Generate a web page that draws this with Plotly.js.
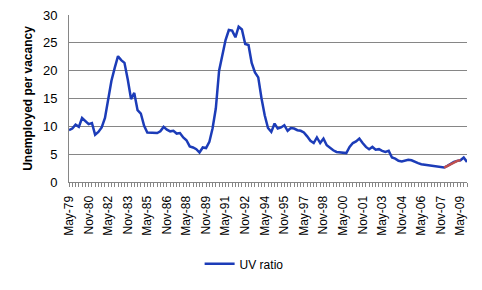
<!DOCTYPE html>
<html>
<head>
<meta charset="utf-8">
<script src="https://cdn.plot.ly/plotly-3.0.1.min.js"></script>
<style>html,body{margin:0;padding:0;background:#fff;}#chart{width:482px;height:290px;}</style>
</head>
<body>
<div id="chart"></div>
<script>
// Quarterly observations, May-79 to Nov-09
const startYear = 1979;
const startMonth = 5;
const seriesName = "UV ratio";
const uvRatio = [
  9.3, 9.6, 10.3, 9.9, 11.5, 11.0, 10.4, 10.6, 8.5, 9.0,
  9.8, 11.5, 14.6, 18.2, 20.5, 22.6, 21.9, 21.4, 18.4, 14.9,
  16.0, 12.9, 12.3, 10.1, 8.9, 8.9, 8.9, 8.8, 9.1, 9.9,
  9.4, 9.1, 9.2, 8.7, 8.8, 8.0, 7.5, 6.4, 6.2, 5.9,
  5.3, 6.2, 6.1, 7.2, 9.6, 13.2, 20.0, 23.0, 25.5, 27.3,
  27.2, 26.0, 27.9, 27.4, 24.8, 24.6, 21.4, 19.7, 18.8, 15.0,
  12.0, 9.7, 9.0, 10.5, 9.6, 9.8, 10.2, 9.2, 9.7, 9.6,
  9.3, 9.2, 8.9, 8.2, 7.4, 7.0, 8.0, 7.0, 7.8, 6.6,
  6.1, 5.7, 5.4, 5.3, 5.3, 5.2, 6.3, 7.0, 7.3, 7.8,
  7.0, 6.3, 5.9, 6.3, 5.8, 5.9, 5.6, 5.4, 5.6, 4.4,
  4.2, 3.8, 3.7, 3.8, 4.0, 3.9, 3.6, 3.4, 3.2, 3.1,
  3.0, 2.9, 2.8, 2.8, 2.7, 2.6, 2.9, 3.3, 3.6, 3.8,
  3.9, 4.4, 3.6
];
// highlighted segment (index range, inclusive)
const highlightStart = 115;
const highlightEnd = 120;

const quarterDates = uvRatio.map((_, i) => {
  const m = startMonth - 1 + 3 * i;
  const y = startYear + Math.floor(m / 12);
  const mm = (m % 12) + 1;
  return y + "-" + String(mm).padStart(2, "0") + "-01";
});

const hlDates = quarterDates.slice(highlightStart, highlightEnd + 1);
const hlVals = uvRatio.slice(highlightStart, highlightEnd + 1);

const traces = [
  {x: quarterDates, y: uvRatio, type: "scatter", mode: "lines", name: seriesName,
   line: {color: "#1c3cb8", width: 2.5}},
  {x: hlDates, y: hlVals, type: "scatter", mode: "lines", name: "highlight", showlegend: false,
   line: {color: "#c0504d", width: 2.5}}
];

const layout = {
  width: 482, height: 290,
  margin: {l: 69, r: 15, t: 15, b: 101},
  paper_bgcolor: "#fff", plot_bgcolor: "#fff",
  font: {family: "Liberation Sans, Arial, sans-serif", size: 11, color: "#000"},
  showlegend: true,
  legend: {orientation: "h", x: 0.44, xanchor: "center", y: -0.49, yanchor: "middle",
           font: {size: 12}, itemwidth: 30},
  xaxis: {
    type: "date",
    range: [quarterDates[0], quarterDates[quarterDates.length - 1]],
    tick0: quarterDates[0], dtick: "M18", tickformat: "%b-%y",
    tickangle: -90, ticks: "outside", ticklen: 4, tickcolor: "#868686",
    minor: {dtick: "M3", tick0: quarterDates[0], ticks: "outside", ticklen: 4, tickcolor: "#868686", showgrid: false},
    showline: true, linecolor: "#868686", linewidth: 1,
    showgrid: false, zeroline: false, automargin: false,
    ticklabelstandoff: 4,
    tickfont: {size: 12}
  },
  yaxis: {
    range: [0, 30], dtick: 5,
    showgrid: true, gridcolor: "#868686", gridwidth: 1,
    showline: true, linecolor: "#868686", zeroline: false,
    ticks: "", automargin: false,
    ticklabelstandoff: 8,
    tickfont: {size: 13},
    title: {text: "<b>Unemployed per vacancy</b>", font: {size: 12}, standoff: 7}
  }
};

Plotly.newPlot("chart", traces, layout, {displayModeBar: false, staticPlot: true});
</script>
</body>
</html>
